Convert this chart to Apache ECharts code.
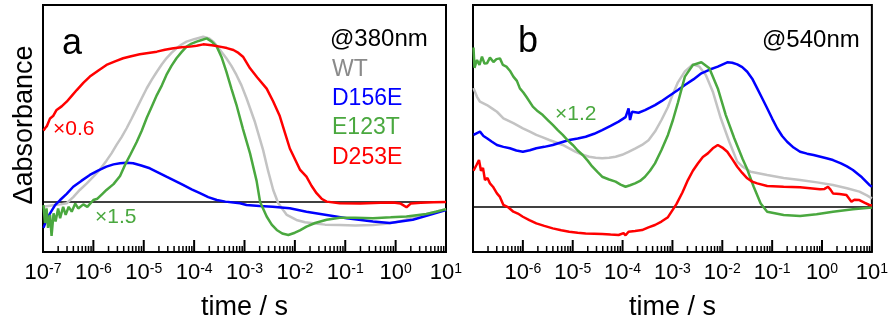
<!DOCTYPE html>
<html>
<head>
<meta charset="utf-8">
<script src="https://cdn.jsdelivr.net/npm/echarts@6/dist/echarts.min.js"></script>
<style>
  html, body { margin: 0; padding: 0; background: #fff; }
  #chart { width: 891px; height: 327px; }
</style>
</head>
<body>
<div id="chart"></div>
<script>
// time axis is log10(t / s); values are normalized ΔA (zero = baseline)
const decades = [-7, -6, -5, -4, -3, -2, -1, 0, 1];
const minorMult = [2, 3, 4, 5, 6, 7, 8, 9];

// panel a, @380nm
const aWtLogT = [-6.99, -6.8, -6.65, -6.53, -6.4, -6.27, -6.13, -6.0, -5.87, -5.74, -5.64, -5.54, -5.44, -5.34, -5.24, -5.14, -5.04, -4.94, -4.84, -4.74, -4.64, -4.55, -4.45, -4.35, -4.25, -4.15, -4.0, -3.82, -3.7, -3.62, -3.5, -3.36, -3.26, -3.16, -3.06, -2.96, -2.8, -2.63, -2.53, -2.43, -2.33, -2.16, -1.97, -1.8, -1.64, -1.4, -1.11, -0.8, -0.45, -0.2, 0.0, 0.2, 0.4, 0.6, 0.8, 1.0];
const aWtVal = [-0.03, -0.02, -0.015, -0.008, 0.03, 0.074, 0.115, 0.156, 0.2, 0.255, 0.3, 0.352, 0.4, 0.455, 0.515, 0.578, 0.64, 0.702, 0.755, 0.804, 0.85, 0.887, 0.92, 0.949, 0.972, 0.99, 1.005, 1.02, 1.01, 0.99, 0.945, 0.887, 0.84, 0.784, 0.72, 0.64, 0.5, 0.32, 0.19, 0.074, -0.008, -0.08, -0.111, -0.125, -0.132, -0.14, -0.142, -0.145, -0.142, -0.135, -0.125, -0.11, -0.09, -0.075, -0.06, -0.045];

const aD156LogT = [-6.99, -6.93, -6.86, -6.76, -6.66, -6.53, -6.4, -6.24, -6.07, -5.9, -5.74, -5.6, -5.47, -5.34, -5.21, -5.05, -4.88, -4.72, -4.55, -4.38, -4.22, -4.05, -3.885, -3.72, -3.55, -3.38, -3.22, -3.09, -2.96, -2.7, -2.44, -2.1, -1.77, -1.37, -0.97, -0.45, -0.115, 0.34, 0.68, 1.0];
const aD156Val = [-0.16, -0.11, -0.07, -0.02, 0.012, 0.05, 0.094, 0.13, 0.167, 0.195, 0.218, 0.232, 0.239, 0.242, 0.239, 0.225, 0.208, 0.183, 0.156, 0.13, 0.105, 0.078, 0.054, 0.03, 0.012, 0.002, -0.004, -0.008, -0.019, -0.025, -0.029, -0.039, -0.06, -0.08, -0.1, -0.12, -0.13, -0.11, -0.08, -0.05];

const aE123LogT = [-6.99, -6.96, -6.93, -6.9, -6.86, -6.83, -6.79, -6.75, -6.7, -6.66, -6.6, -6.55, -6.49, -6.43, -6.36, -6.3, -6.2, -6.12, -6.0, -5.92, -5.82, -5.74, -5.6, -5.47, -5.37, -5.27, -5.14, -5.04, -4.94, -4.84, -4.74, -4.64, -4.55, -4.45, -4.35, -4.25, -4.15, -4.05, -3.95, -3.85, -3.75, -3.65, -3.55, -3.45, -3.36, -3.26, -3.16, -3.03, -2.89, -2.76, -2.69, -2.56, -2.46, -2.36, -2.25, -2.13, -2.0, -1.9, -1.77, -1.6, -1.37, -1.11, -0.8, -0.45, -0.1, 0.216, 0.61, 0.8, 1.0];
const aE123Val = [-0.02, -0.13, -0.04, -0.16, -0.08, -0.21, -0.07, -0.12, -0.04, -0.1, -0.03, -0.08, -0.03, -0.06, -0.01, -0.04, -0.015, -0.03, 0.012, 0.02, 0.05, 0.074, 0.11, 0.16, 0.23, 0.29, 0.37, 0.44, 0.52, 0.59, 0.66, 0.72, 0.784, 0.84, 0.887, 0.925, 0.959, 0.978, 0.99, 1.0, 1.01, 0.99, 0.959, 0.89, 0.804, 0.7, 0.6, 0.45, 0.3, 0.13, 0.0, -0.09, -0.14, -0.173, -0.195, -0.204, -0.19, -0.175, -0.152, -0.13, -0.11, -0.097, -0.098, -0.1, -0.095, -0.09, -0.074, -0.06, -0.045];

const aD253LogT = [-6.99, -6.96, -6.92, -6.86, -6.8, -6.73, -6.63, -6.53, -6.43, -6.33, -6.2, -6.07, -5.9, -5.74, -5.57, -5.41, -5.25, -5.08, -4.91, -4.74, -4.58, -4.41, -4.25, -4.08, -3.95, -3.82, -3.65, -3.49, -3.35, -3.22, -3.12, -3.03, -2.89, -2.75, -2.56, -2.43, -2.3, -2.2, -2.1, -1.9, -1.77, -1.67, -1.57, -1.47, -1.37, -1.11, -0.7, -0.3, -0.05, 0.1, 0.216, 0.3, 0.5, 0.75, 1.0];
const aD253Val = [0.44, 0.455, 0.47, 0.516, 0.53, 0.568, 0.59, 0.619, 0.655, 0.691, 0.735, 0.774, 0.812, 0.846, 0.868, 0.887, 0.9, 0.912, 0.92, 0.928, 0.94, 0.949, 0.955, 0.959, 0.965, 0.973, 0.968, 0.959, 0.95, 0.938, 0.92, 0.897, 0.825, 0.77, 0.7, 0.62, 0.53, 0.43, 0.33, 0.2, 0.156, 0.1, 0.054, 0.02, 0.002, -0.008, -0.01, -0.005, -0.003, -0.01, -0.033, -0.01, -0.005, -0.002, 0.0];

// panel b, @540nm
const bWtLogT = [-6.99, -6.92, -6.86, -6.72, -6.62, -6.52, -6.39, -6.19, -6.0, -5.86, -5.73, -5.6, -5.47, -5.33, -5.2, -5.07, -4.94, -4.8, -4.67, -4.54, -4.41, -4.27, -4.14, -4.01, -3.88, -3.74, -3.61, -3.48, -3.35, -3.22, -3.09, -2.99, -2.89, -2.75, -2.59, -2.46, -2.33, -2.19, -2.03, -1.86, -1.7, -1.6, -1.43, -1.1, -0.77, -0.44, -0.1, 0.22, 0.5, 0.75, 0.9, 1.0];
const bWtVal = [0.82, 0.76, 0.726, 0.703, 0.68, 0.657, 0.612, 0.578, 0.543, 0.52, 0.497, 0.48, 0.462, 0.445, 0.428, 0.405, 0.381, 0.36, 0.347, 0.34, 0.336, 0.34, 0.347, 0.36, 0.381, 0.405, 0.428, 0.46, 0.52, 0.6, 0.69, 0.78, 0.86, 0.935, 0.984, 0.968, 0.91, 0.795, 0.612, 0.45, 0.313, 0.28, 0.243, 0.221, 0.2, 0.186, 0.17, 0.152, 0.13, 0.106, 0.08, 0.06];

const bD156LogT = [-6.99, -6.92, -6.86, -6.79, -6.72, -6.62, -6.52, -6.39, -6.26, -6.13, -6.0, -5.86, -5.73, -5.57, -5.4, -5.24, -5.07, -4.9, -4.74, -4.57, -4.41, -4.24, -4.08, -3.94, -3.88, -3.85, -3.81, -3.68, -3.55, -3.45, -3.35, -3.22, -3.09, -2.89, -2.75, -2.58, -2.42, -2.25, -2.09, -1.9, -1.8, -1.7, -1.6, -1.5, -1.4, -1.3, -1.2, -1.1, -1.0, -0.9, -0.8, -0.7, -0.57, -0.44, -0.3, -0.17, 0.09, 0.22, 0.38, 0.5, 0.62, 0.8, 0.95, 1.0];
const bD156Val = [0.497, 0.51, 0.52, 0.49, 0.474, 0.45, 0.428, 0.415, 0.405, 0.39, 0.381, 0.392, 0.405, 0.415, 0.428, 0.445, 0.462, 0.472, 0.485, 0.505, 0.531, 0.56, 0.589, 0.62, 0.68, 0.6, 0.657, 0.65, 0.668, 0.685, 0.703, 0.73, 0.761, 0.807, 0.841, 0.88, 0.922, 0.948, 0.968, 0.998, 0.995, 0.984, 0.965, 0.933, 0.885, 0.818, 0.75, 0.681, 0.61, 0.543, 0.49, 0.45, 0.41, 0.381, 0.368, 0.359, 0.336, 0.324, 0.301, 0.28, 0.255, 0.205, 0.152, 0.14];

const bE123LogT = [-6.99, -6.97, -6.92, -6.87, -6.82, -6.77, -6.72, -6.66, -6.59, -6.53, -6.46, -6.4, -6.33, -6.26, -6.19, -6.12, -6.06, -5.99, -5.93, -5.8, -5.7, -5.6, -5.5, -5.4, -5.3, -5.2, -5.1, -5.0, -4.9, -4.8, -4.7, -4.61, -4.5, -4.41, -4.27, -4.14, -4.04, -3.94, -3.85, -3.75, -3.65, -3.55, -3.45, -3.35, -3.22, -3.09, -2.99, -2.89, -2.75, -2.59, -2.42, -2.26, -2.09, -1.93, -1.76, -1.59, -1.5, -1.37, -1.23, -1.1, -0.77, -0.44, -0.11, 0.22, 0.62, 0.95, 1.0];
const bE123Val = [1.1, 0.96, 1.014, 0.98, 1.037, 0.99, 0.991, 1.03, 1.0, 1.02, 1.025, 0.98, 0.968, 0.94, 0.899, 0.87, 0.818, 0.79, 0.76, 0.692, 0.66, 0.634, 0.6, 0.566, 0.53, 0.497, 0.46, 0.428, 0.39, 0.359, 0.32, 0.28, 0.24, 0.209, 0.19, 0.175, 0.155, 0.14, 0.15, 0.163, 0.18, 0.209, 0.25, 0.301, 0.393, 0.497, 0.6, 0.72, 0.899, 0.979, 0.998, 0.957, 0.818, 0.634, 0.474, 0.33, 0.26, 0.14, 0.025, -0.032, -0.055, -0.062, -0.05, -0.032, -0.016, -0.005, -0.003];

const bD253LogT = [-6.99, -6.93, -6.88, -6.84, -6.8, -6.76, -6.71, -6.66, -6.6, -6.52, -6.46, -6.39, -6.3, -6.19, -6.1, -6.0, -5.87, -5.73, -5.57, -5.4, -5.23, -5.07, -4.9, -4.74, -4.57, -4.41, -4.24, -4.08, -3.98, -3.94, -3.88, -3.75, -3.61, -3.48, -3.35, -3.22, -3.09, -2.92, -2.8, -2.69, -2.59, -2.49, -2.39, -2.29, -2.19, -2.09, -2.0, -1.9, -1.8, -1.7, -1.6, -1.5, -1.4, -1.3, -1.1, -0.77, -0.44, -0.04, 0.05, 0.12, 0.17, 0.22, 0.35, 0.49, 0.59, 0.65, 0.75, 0.85, 0.95, 1.0];
const bD253Val = [0.25, 0.29, 0.324, 0.25, 0.27, 0.186, 0.2, 0.163, 0.14, 0.094, 0.07, 0.014, 0.0, -0.032, -0.045, -0.067, -0.09, -0.113, -0.13, -0.147, -0.16, -0.17, -0.177, -0.182, -0.184, -0.186, -0.19, -0.193, -0.18, -0.195, -0.17, -0.165, -0.159, -0.14, -0.124, -0.1, -0.07, 0.02, 0.1, 0.186, 0.25, 0.3, 0.345, 0.37, 0.405, 0.428, 0.41, 0.381, 0.33, 0.278, 0.235, 0.198, 0.175, 0.163, 0.145, 0.14, 0.136, 0.122, 0.125, 0.14, 0.12, 0.094, 0.09, 0.083, 0.037, 0.05, 0.048, 0.03, 0.014, 0.01];

const FONT = "'Liberation Sans', Arial, sans-serif";
const C_WT = '#c3c3c3', C_D156 = '#0000ff', C_E123 = '#4aa83f', C_D253 = '#ff0000';
const Y_A = [-0.309, 1.216];
const Y_B = [-0.31, 1.393];

const toPts = (logT, vals) => logT.map((e, i) => [Math.pow(10, e), vals[i]]);
const majorTicks = decades.map(d => Math.pow(10, d));
const minorTicks = [];
decades.slice(0, -1).forEach(d => minorMult.forEach(m => minorTicks.push(m * Math.pow(10, d))));

function curve(idx, color, logT, vals) {
  return {
    type: 'line', xAxisIndex: idx, yAxisIndex: idx,
    data: toPts(logT, vals), showSymbol: false, symbol: 'none',
    lineStyle: { color, width: 2.5 }, silent: true, z: 3,
  };
}

function zeroLine(idx) {
  return {
    type: 'line', xAxisIndex: idx, yAxisIndex: idx,
    data: [[1e-7, 0], [10, 0]], symbol: 'none', silent: true, z: 2,
    lineStyle: { color: '#000', width: 1.5 },
  };
}

// inward ticks on the bottom edge, placed through the log x scale
function tickSeries(idx, ymin, times, len, width) {
  return {
    type: 'custom', xAxisIndex: idx, yAxisIndex: idx, silent: true, clip: false, z: 5,
    data: times.map(t => [t, ymin]),
    renderItem: (params, api) => {
      const p = api.coord([api.value(0), api.value(1)]);
      return { type: 'line', shape: { x1: p[0], y1: p[1], x2: p[0], y2: p[1] - len }, style: { stroke: '#000', lineWidth: width } };
    },
  };
}

function xAxisFor(idx, hideFirst) {
  return {
    type: 'log', logBase: 10, gridIndex: idx, min: 1e-7, max: 10, splitNumber: 8,
    name: 'time / s', nameLocation: 'middle', nameGap: 42,
    nameTextStyle: { fontSize: 27, color: '#000', fontFamily: FONT },
    axisLine: { show: false, onZero: false },
    axisTick: { show: false },
    splitLine: { show: false },
    axisLabel: {
      margin: 10, showMinLabel: true, showMaxLabel: true,
      formatter: v => {
        const e = Math.round(Math.log10(v));
        if (hideFirst && e === -7) return '';
        return '{b|10}{s|' + e + '}';
      },
      rich: {
        b: { fontSize: 22, color: '#000', fontFamily: FONT },
        s: { fontSize: 14, color: '#000', fontFamily: FONT, verticalAlign: 'top' },
      },
    },
  };
}

function yAxisFor(idx, range) {
  return {
    type: 'value', gridIndex: idx, min: range[0], max: range[1],
    axisLine: { show: false, onZero: false }, axisTick: { show: false },
    axisLabel: { show: false }, splitLine: { show: false },
  };
}

function txt(text, x, y, color, size, align, rotation) {
  return {
    type: 'text', x, y, rotation: rotation || 0, silent: true, z: 10,
    style: {
      text, fill: color, fontSize: size, fontFamily: FONT,
      align: align || 'left', textAlign: align || 'left',
      verticalAlign: 'middle', textVerticalAlign: 'middle',
    },
  };
}

const chart = echarts.init(document.getElementById('chart'), null, { renderer: 'canvas' });
chart.setOption({
  animation: false,
  backgroundColor: '#fff',
  grid: [
    { left: 43, top: 5, width: 403, height: 247, show: true, borderColor: '#000', borderWidth: 2, backgroundColor: 'transparent' },
    { left: 473, top: 5, width: 403, height: 247, show: true, borderColor: '#000', borderWidth: 2, backgroundColor: 'transparent' },
  ],
  xAxis: [xAxisFor(0, false), xAxisFor(1, true)],
  yAxis: [yAxisFor(0, Y_A), yAxisFor(1, Y_B)],
  series: [
    zeroLine(0),
    curve(0, C_WT, aWtLogT, aWtVal),
    curve(0, C_D156, aD156LogT, aD156Val),
    curve(0, C_E123, aE123LogT, aE123Val),
    curve(0, C_D253, aD253LogT, aD253Val),
    tickSeries(0, Y_A[0], majorTicks, 12, 2),
    tickSeries(0, Y_A[0], minorTicks, 6, 1.5),
    zeroLine(1),
    curve(1, C_WT, bWtLogT, bWtVal),
    curve(1, C_D156, bD156LogT, bD156Val),
    curve(1, C_E123, bE123LogT, bE123Val),
    curve(1, C_D253, bD253LogT, bD253Val),
    tickSeries(1, Y_B[0], majorTicks, 12, 2),
    tickSeries(1, Y_B[0], minorTicks, 6, 1.5),
  ],
  graphic: [
    txt('Δabsorbance', 25, 125, '#000', 27, 'center', Math.PI / 2),
    txt('a', 72, 44, '#000', 36, 'center'),
    txt('b', 528, 42, '#000', 36, 'center'),
    txt('@380nm', 330, 39, '#000', 24),
    txt('@540nm', 762, 40, '#000', 24),
    txt('WT', 332, 70, '#8a8a8a', 23),
    txt('D156E', 332, 99, C_D156, 23),
    txt('E123T', 332, 128, C_E123, 23),
    txt('D253E', 332, 158, C_D253, 23),
    txt('×0.6', 53, 129, C_D253, 21),
    txt('×1.5', 95, 217, C_E123, 21),
    txt('×1.2', 555, 114, C_E123, 21),
  ],
});
</script>
</body>
</html>
